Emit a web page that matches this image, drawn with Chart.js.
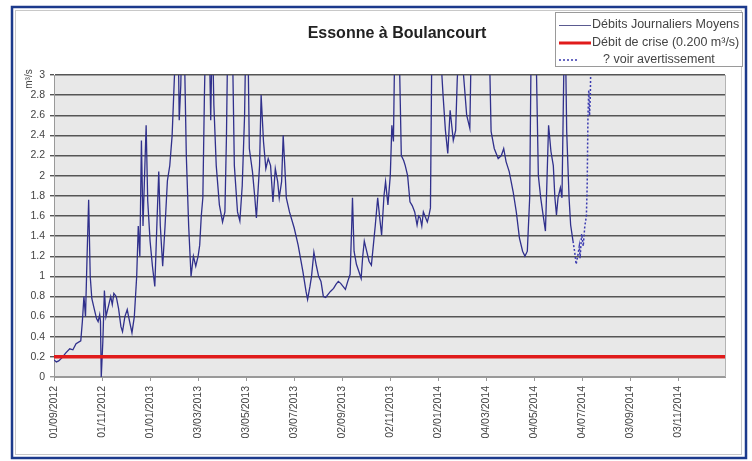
<!DOCTYPE html>
<html>
<head>
<meta charset="utf-8">
<script src="https://cdn.jsdelivr.net/npm/chart.js@4.4.1/dist/chart.umd.min.js"></script>
<style>
  body { margin: 0; background: #fff; }
  #wrap { width: 752px; height: 461px; }
</style>
</head>
<body>
<div id="wrap"><canvas id="debits" width="752" height="461"></canvas></div>
<script>
// days counted from 01/09/2012, flows in m3/s (above 3 the line leaves the plot)
var flowDays = [0, 3, 6, 10, 15, 20, 24, 28, 34, 36, 38, 40, 42, 44, 46, 48, 51, 54, 56, 58, 59, 60, 62, 64, 66, 69, 72, 74, 76, 79,
  82, 85, 87, 90, 93, 96, 99, 102, 105, 107, 109, 111, 113, 115, 117, 119, 122, 125, 128, 131, 133, 135, 138, 141, 144, 147, 150, 153, 155, 157,
  159, 161, 163, 165, 168, 171, 174, 177, 180, 183, 185, 187, 189, 191, 193, 196, 198, 199, 201, 203, 206, 210, 214, 217, 219, 221, 224, 227, 229, 233,
  236, 239, 242, 244, 246, 248, 252, 255, 257, 261, 263, 266, 269, 272, 275, 278, 281, 284, 286, 289, 291, 293, 295, 299, 305, 310, 316, 320, 322, 325,
  327, 330, 333, 336, 339, 342, 345, 348, 351, 355, 358, 361, 364, 367, 370, 373, 376, 378, 379, 381, 384, 387, 390, 392, 394, 397, 400, 403, 406, 408,
  411, 414, 416, 419, 421, 424, 427, 429, 431, 433, 436, 438, 441, 444, 446, 449, 452, 455, 458, 461, 463, 465, 467, 469, 471, 474, 476, 478, 480, 484,
  488, 491, 494, 497, 500, 503, 507, 510, 512, 515, 518, 521, 524, 528, 530, 535, 540, 545, 550, 553, 555, 559, 564, 568, 571, 574, 578, 583, 587, 591,
  595, 598, 601, 604, 606, 609, 612, 615, 618, 621, 624, 626, 628, 631, 634, 636, 638, 640, 643, 645, 648, 650, 651, 654, 656, 659];
var flowValues = [0.17, 0.15, 0.16, 0.19, 0.24, 0.28, 0.27, 0.33, 0.36, 0.55, 0.8, 0.6, 1.2, 1.76, 1.0, 0.78, 0.68, 0.58, 0.55, 0.62, 0.55, 0, 0.35, 0.86, 0.6, 0.7, 0.8, 0.72, 0.83, 0.8,
  0.68, 0.5, 0.45, 0.6, 0.67, 0.55, 0.44, 0.6, 1.0, 1.5, 1.2, 2.35, 1.5, 2.0, 2.5, 1.75, 1.35, 1.1, 0.9, 1.6, 2.04, 1.5, 1.1, 1.5, 1.95, 2.1, 2.4, 3.0, 3.6, 3.8,
  2.55, 2.9, 3.7, 3.5, 2.2, 1.5, 1.0, 1.2, 1.1, 1.2, 1.31, 1.6, 1.78, 2.8, 3.6, 3.8, 3.0, 2.55, 3.5, 2.7, 2.1, 1.71, 1.54, 1.64, 2.4, 3.6, 3.4, 3.1, 2.1, 1.64,
  1.55, 1.9, 2.6, 3.6, 3.5, 2.27, 2.04, 1.78, 1.58, 2.1, 2.8, 2.34, 2.07, 2.17, 2.1, 1.74, 2.07, 1.94, 1.78, 1.94, 2.4, 2.1, 1.78, 1.64, 1.48, 1.31, 1.05, 0.85, 0.77, 0.9,
  1.0, 1.24, 1.11, 1.0, 0.95, 0.8, 0.79, 0.82, 0.85, 0.88, 0.92, 0.95, 0.93, 0.9, 0.87, 0.95, 1.02, 1.5, 1.78, 1.25, 1.12, 1.05, 0.98, 1.2, 1.35, 1.25, 1.15, 1.11, 1.35, 1.51,
  1.78, 1.55, 1.41, 1.8, 1.94, 1.71, 2.0, 2.5, 2.34, 3.5, 3.8, 3.4, 2.2, 2.15, 2.1, 2.0, 1.74, 1.7, 1.64, 1.51, 1.6, 1.58, 1.5, 1.64, 1.6, 1.54, 1.6, 1.68, 3.5, 3.8,
  3.6, 3.2, 2.8, 2.45, 2.22, 2.65, 2.35, 2.45, 2.95, 3.4, 3.2, 2.9, 2.6, 2.47, 3.4, 3.8, 3.6, 3.7, 3.5, 3.2, 2.44, 2.27, 2.17, 2.2, 2.27, 2.14, 2.04, 1.84, 1.64, 1.38,
  1.25, 1.2, 1.25, 1.78, 3.4, 3.8, 3.3, 2.0, 1.78, 1.61, 1.45, 1.97, 2.5, 2.24, 2.1, 1.78, 1.61, 1.78, 1.88, 1.78, 3.4, 3.0, 2.44, 1.78, 1.51, 1.35];

// provisional values ("? voir avertissement")
var warnDays = [659, 661, 663, 665, 667, 668, 670, 672, 674, 676, 677, 678, 679, 680, 681, 682];
var warnValues = [1.35, 1.25, 1.12, 1.2, 1.3, 1.18, 1.42, 1.3, 1.5, 1.6, 1.9, 2.6, 2.85, 2.6, 2.8, 3.3];

var crisisFlow = 0.2;
var xTickLabels = ['01/09/2012', '01/11/2012', '01/01/2013', '03/03/2013', '03/05/2013', '03/07/2013', '02/09/2013',
  '02/11/2013', '02/01/2014', '04/03/2014', '04/05/2014', '04/07/2014', '03/09/2014', '03/11/2014'];
var xStart = '01/09/2012';
var xEnd = '01/01/2015';

var chartTitle = 'Essonne à Boulancourt';
var yUnit = 'm³/s';
var legendLabels = ['Débits Journaliers Moyens', 'Débit de crise (0.200 m³/s)', '? voir avertissement'];

function dayOf(label) {
  var p = label.split('/');
  var s = xStart.split('/');
  return (Date.UTC(+p[2], +p[1] - 1, +p[0]) - Date.UTC(+s[2], +s[1] - 1, +s[0])) / 86400000;
}

function toPoints(days, values) {
  var pts = [];
  for (var i = 0; i < days.length; i++) {
    pts.push({ x: days[i], y: values[i] });
  }
  return pts;
}

var blue = '#30308c';
var red = '#e01b1b';

var decor = {
  id: 'decor',
  beforeDraw: function (chart) {
    var ctx = chart.ctx;
    var a = chart.chartArea;
    ctx.save();
    ctx.fillStyle = '#fff';
    ctx.fillRect(0, 0, chart.width, chart.height);
    // outer frames
    ctx.strokeStyle = '#1c3a8c';
    ctx.lineWidth = 2.5;
    ctx.strokeRect(12, 7, 734, 451);
    ctx.strokeStyle = '#c8c8c8';
    ctx.lineWidth = 1;
    ctx.strokeRect(15.5, 10.5, 726, 444);
    // plot background
    ctx.fillStyle = '#e8e8e8';
    ctx.fillRect(a.left, a.top, a.right - a.left, a.bottom - a.top);
    ctx.restore();
  },
  afterDraw: function (chart) {
    var ctx = chart.ctx;
    var a = chart.chartArea;
    ctx.save();
    ctx.strokeStyle = '#b4b4b4';
    ctx.lineWidth = 1;
    ctx.beginPath();
    ctx.moveTo(a.right + 0.5, a.top);
    ctx.lineTo(a.right + 0.5, a.bottom);
    ctx.stroke();

    // title
    ctx.fillStyle = '#222';
    ctx.font = 'bold 16px "Liberation Sans", Arial, sans-serif';
    ctx.textAlign = 'center';
    ctx.textBaseline = 'middle';
    ctx.fillText(chartTitle, 397, 34);

    // unit along y axis
    ctx.save();
    ctx.translate(29, 79);
    ctx.rotate(-Math.PI / 2);
    ctx.font = '10px "Liberation Sans", Arial, sans-serif';
    ctx.fillStyle = '#444';
    ctx.fillText(yUnit, 0, 0);
    ctx.restore();

    // legend box
    ctx.fillStyle = '#fff';
    ctx.fillRect(555, 12, 188, 55);
    ctx.strokeStyle = '#9a9a9a';
    ctx.strokeRect(555.5, 12.5, 187, 54);
    ctx.font = '12.5px "Liberation Sans", Arial, sans-serif';
    ctx.textAlign = 'left';
    ctx.fillStyle = '#444';
    var rows = [25, 43, 60];
    ctx.strokeStyle = '#5a5a90';
    ctx.lineWidth = 1;
    ctx.beginPath();
    ctx.moveTo(559, rows[0] + 0.5);
    ctx.lineTo(591, rows[0] + 0.5);
    ctx.stroke();
    ctx.strokeStyle = red;
    ctx.lineWidth = 3;
    ctx.beginPath();
    ctx.moveTo(559, rows[1]);
    ctx.lineTo(591, rows[1]);
    ctx.stroke();
    ctx.strokeStyle = '#3a3ab0';
    ctx.lineWidth = 1.5;
    ctx.setLineDash([2, 2]);
    ctx.beginPath();
    ctx.moveTo(559, rows[2]);
    ctx.lineTo(579, rows[2]);
    ctx.stroke();
    ctx.setLineDash([]);
    ctx.fillText(legendLabels[0], 592, rows[0]);
    ctx.fillText(legendLabels[1], 592, rows[1]);
    ctx.fillText(legendLabels[2], 603, rows[2]);
    ctx.restore();
  }
};

Chart.defaults.font.family = '"Liberation Sans", Arial, sans-serif';
Chart.defaults.color = '#444';

new Chart(document.getElementById('debits'), {
  type: 'line',
  data: {
    datasets: [{
      label: legendLabels[1],
      data: [{ x: 0, y: crisisFlow }, { x: dayOf(xEnd), y: crisisFlow }],
      borderColor: red,
      borderWidth: 3.5,
      pointRadius: 0
    }, {
      label: legendLabels[2],
      data: toPoints(warnDays, warnValues),
      borderColor: '#3a3ab0',
      borderWidth: 1.5,
      borderDash: [2, 2],
      pointRadius: 0
    }, {
      label: legendLabels[0],
      data: toPoints(flowDays, flowValues),
      borderColor: blue,
      borderWidth: 1.3,
      pointRadius: 0
    }]
  },
  options: {
    responsive: false,
    animation: false,
    layout: { padding: { top: 75, right: 27, left: 0, bottom: 0 } },
    plugins: {
      legend: { display: false },
      title: { display: false },
      tooltip: { enabled: false }
    },
    scales: {
      x: {
        type: 'linear',
        min: 0,
        max: dayOf(xEnd),
        afterFit: function (scale) { scale.height = 84; },
        afterBuildTicks: function (scale) {
          scale.ticks = xTickLabels.map(function (l) { return { value: dayOf(l) }; });
        },
        grid: { drawOnChartArea: false, drawTicks: true, tickLength: 4, color: '#999' },
        border: { color: '#999' },
        ticks: {
          autoSkip: false,
          maxRotation: 90,
          minRotation: 90,
          padding: 5,
          font: { size: 10.5 },
          callback: function (value, index) { return xTickLabels[index]; }
        }
      },
      y: {
        min: 0,
        max: 3,
        afterFit: function (scale) { scale.width = 54; },
        grid: {
          tickLength: 4,
          lineWidth: 1.4,
          color: function (c) { return c.tick && c.tick.value === 0 ? '#999' : '#555'; }
        },
        border: { color: '#999' },
        ticks: {
          stepSize: 0.2,
          padding: 5,
          font: { size: 10.5 },
          callback: function (v) { return +v.toFixed(1); }
        }
      }
    }
  },
  plugins: [decor]
});
</script>
</body>
</html>
